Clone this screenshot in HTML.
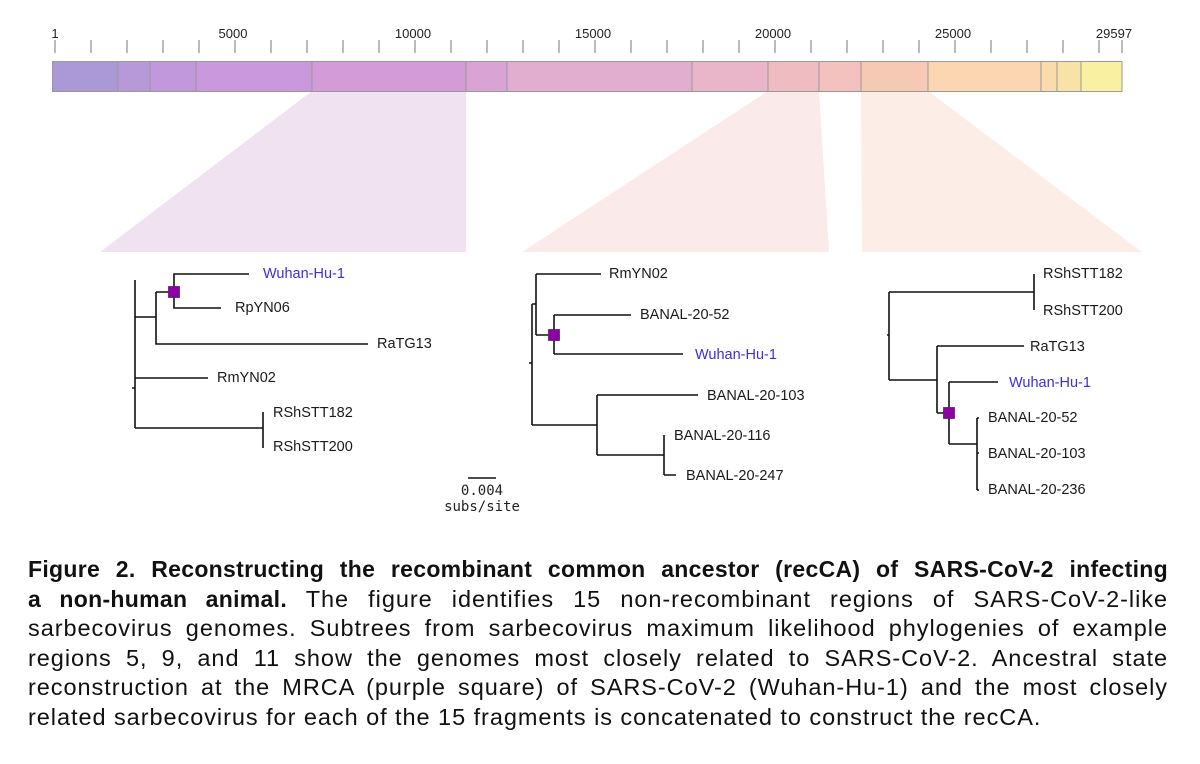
<!DOCTYPE html>
<html><head><meta charset="utf-8"><style>
body{margin:0;background:#fff;width:1200px;height:764px;overflow:hidden;position:relative;font-family:"Liberation Sans",Arial,sans-serif}
svg{position:absolute;left:0;top:0}
.cap{position:absolute;left:28px;width:1140px;top:555px;font-size:23.5px;line-height:29.6px;color:#111;letter-spacing:0.95px}
.cap div{text-align:justify;text-align-last:justify;white-space:nowrap}
.cap div.l{text-align-last:left}
.cap b{font-size:23px;letter-spacing:0.3px}
</style></head><body>
<svg width="1200" height="764" viewBox="0 0 1200 764" font-family="Liberation Sans, Arial, sans-serif">
<polygon points="312,91 466,91 466,252 100,252" fill="#f1e2f2"/>
<polygon points="768,91 819,91 829,252 522,252" fill="#fbeaea"/>
<polygon points="861,91 928,91 1142,252 862,252" fill="#fcede6"/>
<g stroke="#999" stroke-width="1">
<rect x="52.5" y="61.5" width="65.5" height="30" fill="#ab98d6"/>
<rect x="118" y="61.5" width="32" height="30" fill="#b799d9"/>
<rect x="150" y="61.5" width="46" height="30" fill="#c198dc"/>
<rect x="196" y="61.5" width="116" height="30" fill="#c998dd"/>
<rect x="312" y="61.5" width="154" height="30" fill="#d39cd8"/>
<rect x="466" y="61.5" width="41" height="30" fill="#d9a3d4"/>
<rect x="507" y="61.5" width="185" height="30" fill="#e2aecf"/>
<rect x="692" y="61.5" width="76" height="30" fill="#e9b5c8"/>
<rect x="768" y="61.5" width="51" height="30" fill="#efbcc2"/>
<rect x="819" y="61.5" width="42" height="30" fill="#f3c1be"/>
<rect x="861" y="61.5" width="67" height="30" fill="#f6c9b5"/>
<rect x="928" y="61.5" width="113" height="30" fill="#fbd6b0"/>
<rect x="1041" y="61.5" width="16" height="30" fill="#fadcac"/>
<rect x="1057" y="61.5" width="24" height="30" fill="#f9e2a5"/>
<rect x="1081" y="61.5" width="41" height="30" fill="#faf0a2"/>
</g>
<g font-size="13" fill="#222" text-anchor="middle">
<text x="55" y="38">1</text><text x="233" y="38">5000</text><text x="413" y="38">10000</text><text x="593" y="38">15000</text><text x="773" y="38">20000</text><text x="953" y="38">25000</text><text x="1114" y="38">29597</text>
</g>
<g stroke="#111" stroke-width="1.6" fill="none">
<path d="M249,274H174V308H221 M174,292H156 M156,292V344H368 M156,317H135 M135,280V428 M135,378H208 M135,428H263 M263,412V448 M132,388H135"/>
<path d="M468,478H496"/>
<path d="M529,363H532 M532,304V425 M532,304H536 M536,274V335 M536,274H601 M536,335H554 M554,315V354 M554,315H631 M554,354H683 M532,425H597 M597,395V455 M597,395H698 M597,455H664 M664,435V475 M664,475H676"/>
<path d="M887,335H889 M889,292V380 M889,292H1034 M1034,274V310 M889,380H937 M937,346V413 M937,346H1024 M937,413H949 M949,382V444 M949,382H998 M949,444H977 M977,418V490 M977,418H979 M977,453H979 M977,490H979"/>
</g>
<g fill="#8e00a6" stroke="#5a2070" stroke-width="0.8">
<rect x="168.5" y="286.5" width="11" height="11"/>
<rect x="548.5" y="329.5" width="11" height="11"/>
<rect x="943.5" y="407.5" width="11" height="11"/>
</g>
<g font-size="14.5" fill="#1a1a1a" dominant-baseline="central">
<text x="263" y="274" fill="#3a2fd8">Wuhan-Hu-1</text>
<text x="235" y="308">RpYN06</text>
<text x="377" y="344">RaTG13</text>
<text x="217" y="378">RmYN02</text>
<text x="273" y="413">RShSTT182</text>
<text x="273" y="447">RShSTT200</text>
<text x="609" y="274">RmYN02</text>
<text x="640" y="315">BANAL-20-52</text>
<text x="695" y="355" fill="#3a2fd8">Wuhan-Hu-1</text>
<text x="707" y="396">BANAL-20-103</text>
<text x="674" y="436">BANAL-20-116</text>
<text x="686" y="476">BANAL-20-247</text>
<text x="1043" y="274">RShSTT182</text>
<text x="1043" y="311">RShSTT200</text>
<text x="1030" y="347">RaTG13</text>
<text x="1009" y="383" fill="#3a2fd8">Wuhan-Hu-1</text>
<text x="988" y="418">BANAL-20-52</text>
<text x="988" y="454">BANAL-20-103</text>
<text x="988" y="490">BANAL-20-236</text>
</g>
<g font-family="DejaVu Sans Mono, Liberation Mono, monospace" font-size="14" fill="#222" text-anchor="middle">
<text x="482" y="495">0.004</text>
<text x="482" y="511">subs/site</text>
</g>
<g stroke="#777" stroke-width="1">
<path d="M55,40V53 M91,40V53 M127,40V53 M163,40V53 M199,40V53 M235,40V53 M271,40V53 M307,40V53 M343,40V53 M379,40V53 M415,40V53 M451,40V53 M487,40V53 M523,40V53 M559,40V53 M595,40V53 M631,40V53 M667,40V53 M703,40V53 M739,40V53 M775,40V53 M811,40V53 M847,40V53 M883,40V53 M919,40V53 M955,40V53 M991,40V53 M1027,40V53 M1063,40V53 M1099,40V53 M1122,40V53"/>
</g>
</svg>
<div class="cap">
<div><b>Figure 2. Reconstructing the recombinant common ancestor (recCA) of SARS-CoV-2 infecting</b></div>
<div><b>a non-human animal.</b> The figure identifies 15 non-recombinant regions of SARS-CoV-2-like</div>
<div>sarbecovirus genomes. Subtrees from sarbecovirus maximum likelihood phylogenies of example</div>
<div>regions 5, 9, and 11 show the genomes most closely related to SARS-CoV-2. Ancestral state</div>
<div>reconstruction at the MRCA (purple square) of SARS-CoV-2 (Wuhan-Hu-1) and the most closely</div>
<div class="l">related sarbecovirus for each of the 15 fragments is concatenated to construct the recCA.</div>
</div>
</body></html>
